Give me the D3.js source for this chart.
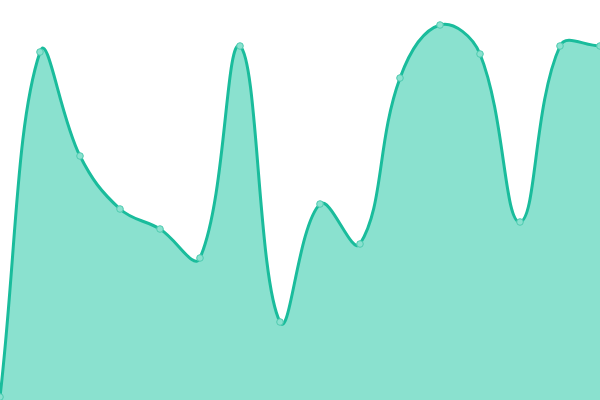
<!DOCTYPE html>
<html>
<head>
<meta charset="utf-8">
<script src="https://cdn.jsdelivr.net/npm/d3@7"></script>
<style>
	html, body { margin: 0; padding: 0; background: #fff; }
	svg { display: block; }
	.area { fill: #8ae1cf; }
	.line { fill: none; stroke: #1abc9c; stroke-width: 3; }
	.dot { fill: #8ae1cf; stroke: #4fcbb0; stroke-width: 1; }
</style>
</head>
<body>
<div id="chart"></div>
<script>
// sample positions and series values
var steps = [0, 1, 2, 3, 4, 5, 6, 7, 8, 9, 10, 11, 12, 13, 14, 15];
var values = [3, 348, 244, 191, 171, 142, 354, 78, 196, 156, 322, 375, 346, 178, 354, 354];

var width = 600,
	height = 400;

var data = steps.map(function(s, i) { return {step: s, value: values[i]}; });

var xScale = d3.scaleLinear().domain([0, 15]).range([0, width]);
var yScale = d3.scaleLinear().domain([0, 400]).range([height, 0]);

// spline with distance-weighted tension, control points kept inside the plot
function SplineCurve(context, tension) {
	this._context = context;
	this._t = tension;
}

SplineCurve.prototype = {
	areaStart: function() { this._line = 0; },
	areaEnd: function() { this._line = NaN; },
	lineStart: function() { this._pts = []; },
	point: function(x, y) { this._pts.push([+x, +y]); },
	lineEnd: function() {
		var p = this._pts, n = p.length, t = this._t, ctx = this._context;
		var cp = p.map(function(cur, i) {
			var prev = i > 0 ? p[i - 1] : cur,
				next = i < n - 1 ? p[i + 1] : cur;
			var d01 = Math.hypot(cur[0] - prev[0], cur[1] - prev[1]),
				d12 = Math.hypot(next[0] - cur[0], next[1] - cur[1]);
			var s01 = d01 / (d01 + d12) || 0,
				s12 = d12 / (d01 + d12) || 0;
			var fa = t * s01, fb = t * s12;
			var dx = next[0] - prev[0], dy = next[1] - prev[1];
			return {
				px: clamp(cur[0] - fa * dx, 0, width), py: clamp(cur[1] - fa * dy, 0, height),
				nx: clamp(cur[0] + fb * dx, 0, width), ny: clamp(cur[1] + fb * dy, 0, height)
			};
		});
		for (var i = 0; i < n; i++) {
			if (i === 0) {
				if (this._line) ctx.lineTo(p[0][0], p[0][1]);
				else ctx.moveTo(p[0][0], p[0][1]);
			}
			else {
				ctx.bezierCurveTo(cp[i - 1].nx, cp[i - 1].ny, cp[i].px, cp[i].py, p[i][0], p[i][1]);
			}
		}
		if (this._line) ctx.closePath();
		this._line = 1 - this._line;
	}
};

function clamp(v, lo, hi) { return Math.max(lo, Math.min(hi, v)); }

var curve = function(context) { return new SplineCurve(context, 0.4); };

var svg = d3.select("#chart")
	.append("svg")
	.attr("width", width)
	.attr("height", height);

var area = d3.area()
	.curve(curve)
	.x(function(d) { return xScale(d.step); })
	.y0(yScale(0))
	.y1(function(d) { return yScale(d.value); });

var line = d3.line()
	.curve(curve)
	.x(function(d) { return xScale(d.step); })
	.y(function(d) { return yScale(d.value); });

svg.append("path")
	.datum(data)
	.attr("class", "area")
	.attr("d", area);

svg.append("path")
	.datum(data)
	.attr("class", "line")
	.attr("d", line);

// point markers
svg.selectAll(".dot")
	.data(data)
	.enter()
	.append("circle")
	.attr("class", "dot")
	.attr("cx", function(d) { return xScale(d.step); })
	.attr("cy", function(d) { return yScale(d.value); })
	.attr("r", 3.3);
</script>
</body>
</html>
